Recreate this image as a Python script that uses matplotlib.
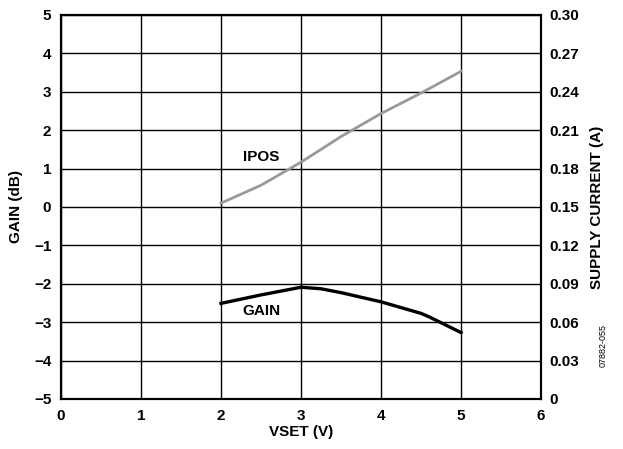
import matplotlib.pyplot as plt
import numpy as np

plt.rcParams['font.family'] = ['Liberation Sans', 'DejaVu Sans']
plt.rcParams['font.weight'] = 'bold'

vset = [2.0, 2.5, 3.0, 3.25, 3.5, 4.0, 4.5, 4.6, 5.0]
gain_db = [-2.51, -2.29, -2.09, -2.13, -2.23, -2.47, -2.77, -2.86, -3.27]

vset_ipos = [2.0, 2.5, 3.0, 3.5, 4.0, 4.5, 5.0]
ipos_a = [0.153, 0.167, 0.185, 0.205, 0.223, 0.239, 0.256]

fig = plt.figure(figsize=(6.23, 4.49), dpi=100)
ax = fig.add_axes([0.0979, 0.1114, 0.7705, 0.8552])
ax2 = ax.twinx()

ax.plot(vset, gain_db, color='black', lw=2.4, zorder=3)
ax2.plot(vset_ipos, ipos_a, color='#999999', lw=2.0, zorder=3)

ax.set_xlim(0, 6)
ax.set_ylim(-5, 5)
ax2.set_ylim(0, 0.30)
ax.set_xticks(range(0, 7))
ax.set_yticks(range(-5, 6))
ax.set_yticklabels([str(v).replace('-', '\u2212') for v in range(-5, 6)])
ax2.set_yticks(np.arange(0, 0.31, 0.03))
ax2.set_yticklabels(['0'] + ['%.2f' % v for v in np.arange(0.03, 0.31, 0.03)])

ax.grid(True, color='black', lw=1.0)
ax.tick_params(axis='x', length=0, labelsize=11, pad=7)
ax.tick_params(axis='y', length=0, labelsize=11, pad=7)
ax2.tick_params(axis='y', length=0, labelsize=11, pad=6)
for a in (ax, ax2):
    for s in a.spines.values():
        s.set_linewidth(1.5)

ax.set_xlabel('VSET (V)', fontsize=11, fontweight='bold', labelpad=2)
ax.set_ylabel('GAIN (dB)', fontsize=11, fontweight='bold', labelpad=8)
ax2.set_ylabel('SUPPLY CURRENT (A)', fontsize=11, fontweight='bold', labelpad=8)

ax.text(2.5, 1.3, 'IPOS', fontsize=11, fontweight='bold', ha='center', va='center')
ax.text(2.5, -2.7, 'GAIN', fontsize=11, fontweight='bold', ha='center', va='center')

fig.text(0.968, 0.23, '07882-055', rotation=90, fontsize=6.5, fontweight='normal',
         ha='center', va='center')

plt.savefig('out.png', dpi=100)
